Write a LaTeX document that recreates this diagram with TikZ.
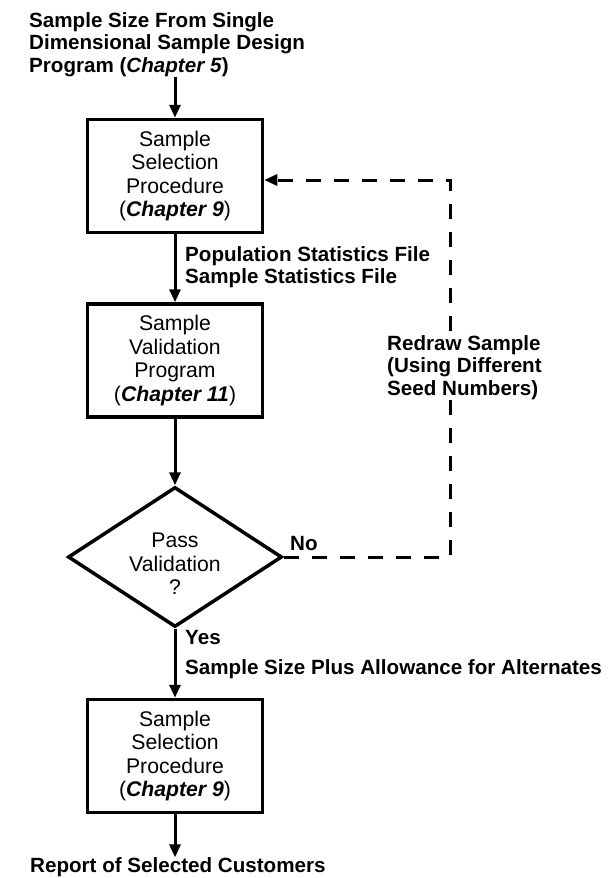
\documentclass[tikz,border=0pt]{standalone}
\usepackage{fontspec}
\setmainfont{Liberation Sans}
\usetikzlibrary{arrows.meta,shapes.geometric,calc}

\begin{document}
\begin{tikzpicture}[x=1pt,y=-1pt,
  procbox/.style={draw, line width=3.5pt, minimum width=175pt, minimum height=113pt,
    inner sep=0pt, align=center, font=\fontsize{21.2}{23.6}\selectfont},
  decision/.style={draw, diamond, line width=3.5pt, minimum width=214pt,
    minimum height=140pt, inner sep=0pt},
  dectext/.style={inner sep=0pt, align=center, font=\fontsize{21.2}{23.6}\selectfont},
  lbl/.style={inner sep=0pt, align=left, font=\bfseries\fontsize{20.6}{22.5}\selectfont},
  flow/.style={line width=3pt, -{Triangle[length=13pt,width=11pt]}},
  retflow/.style={flow, dash pattern=on 15pt off 13pt},
]
\useasboundingbox (0,0) rectangle (611,878);

% source of the sample size
\node[lbl, anchor=north west] (src) at (29,12)
  {Sample Size From Single\\Dimensional Sample Design\\Program (\textit{Chapter 5})};

% process steps
\node[procbox] (sel1) at (175,176)
  {Sample\\Selection\\Procedure\\(\textbf{\textit{Chapter 9}})};
\node[procbox] (val) at (175,360.5)
  {Sample\\Validation\\Program\\(\textbf{\textit{Chapter 11}})};
\node[decision] (dec) at (175,557) {};
\node[dectext] (dectxt) at (175,564) {Pass\\Validation\\?};
\node[procbox] (sel2) at (175,756)
  {Sample\\Selection\\Procedure\\(\textbf{\textit{Chapter 9}})};

% output
\node[lbl, anchor=base west] (rep) at (30,872.5) {Report of Selected Customers};

% main flow
\draw[flow] (src.south -| sel1.north) -- (sel1.north);
\draw[flow] (sel1.south) -- (val.north);
\draw[flow] (val.south) -- (dec.north);
\draw[flow] (dec.south) -- (sel2.north);
\draw[flow] (sel2.south) -- (sel2.south |- rep.north);

% redraw loop
\coordinate (turn) at (450,180);
\draw[retflow] (dec.east) -| (turn) -- (turn -| sel1.east);

% flow labels
\node[lbl, anchor=north west] (files) at (185,246)
  {Population Statistics File\\Sample Statistics File};
\node[lbl, anchor=north west, fill=white, inner sep=1pt] (redraw) at (386,334)
  {Redraw Sample\\(Using Different\\Seed Numbers)};
\node[lbl, anchor=base west] (no) at (290,550) {No};
\node[lbl, anchor=base west] (yes) at (185,644) {Yes};
\node[lbl, anchor=base west] (alloc) at (185,674) {Sample Size Plus Allowance for Alternates};
\end{tikzpicture}
\end{document}
